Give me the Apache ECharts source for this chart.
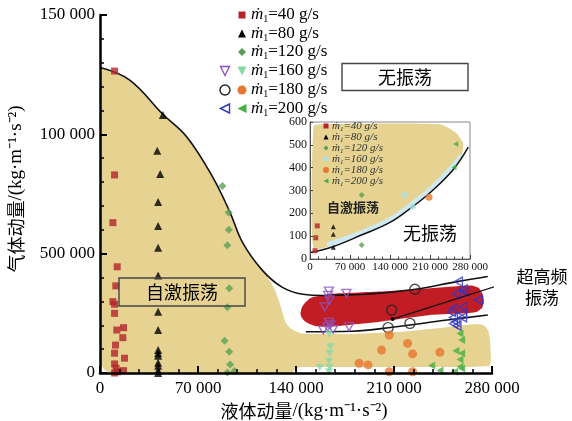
<!DOCTYPE html>
<html><head><meta charset="utf-8">
<script src="https://cdn.jsdelivr.net/npm/echarts@6/dist/echarts.min.js"></script>
<style>html,body{margin:0;padding:0;background:#fff}#c{width:572px;height:421px}</style>
</head><body><div id="c"></div>
<script>
// ---------- tick labels ----------
const xTickLabels = {0:'0',70000:'70 000',140000:'140 000',210000:'210 000',280000:'280 000'};
const yTickLabels = {0:'0',50000:'500 000',100000:'100 000',150000:'150 000'};
const insetXTickLabels = {0:'0',70000:'70 000',140000:'140 000',210000:'210 000',280000:'280 000'};
const legendNames = ['=40 g/s','=80 g/s','=120 g/s','=160 g/s','=180 g/s','=200 g/s'];

// ---------- main chart data [liquid momentum, gas momentum] ----------
const m40 = [[10400,126500],[10400,83000],[9200,63000],[12300,44500],[11300,36500],[9200,29900],[10400,28800],[10400,25000],[12000,18000],[16800,19000],[16300,14800],[11100,11700],[10400,8300],[17500,6200],[10400,3800],[11500,2000],[16800,1000],[12500,500],[10400,0]];
const m80 = [[44900,108100],[40900,93100],[43000,83400],[41500,71600],[41500,61600],[41500,52500],[41500,40800],[41500,25700],[41500,18000],[41500,9600],[41500,8300],[41500,7200],[41500,4300],[41500,3000],[41500,1000],[41500,0]];
const m120 = [[87400,78300],[91900,67300],[92000,60000],[91000,53500],[92300,35500],[91000,27500],[89000,13500],[92300,8900],[93000,3600],[91000,200],[96000,800]];
const m160Hollow = [[163500,34300],[163000,32500],[164000,30600],[160500,27700],[176000,33400],[163500,21200],[164500,20200],[162500,19300],[159500,18000],[166500,18300],[178000,19400]];
const m160Filled = [[163600,16300],[164500,11000],[164000,8300],[163500,4900],[157000,2300],[164000,2300],[163500,500]];
const m180Hollow = [[224900,35100],[208300,26400],[221400,20800],[205800,19000]];
const m180Filled = [[206600,15900],[201100,9600],[185100,4100],[191500,3400],[206600,500],[219700,12400],[223300,8000],[223300,500],[242800,8700]];
const m200Hollow = [[256000,38300],[259500,35000],[254500,33200],[261000,34000],[270200,30600],[259500,27700],[252500,27000],[259000,25000],[251200,25500],[252500,23300],[259000,23300],[254200,21500],[252500,20700],[255000,19800]];
const m200Filled = [[257100,16600],[258300,13800],[254200,9300],[258300,8300],[257100,5700],[236900,3100],[242800,1000],[257100,2600],[258300,1900],[253300,500]];

// ---------- boundaries / regions ----------
const upperCurve = [[0,128000],[21000,122800],[44700,108500],[62000,98900],[80500,82100],[92700,67500],[102000,54500],[116000,43000],[130000,36000],[145000,33000],[160000,32500],[176000,32700],[190000,33000],[224000,35000],[255000,38300],[277000,40400]];
const lowerCurve = [[147000,17300],[180000,17500],[210000,19300],[248000,22200],[277000,24300]];
const selfExcitedRegion = [[0,128000],[10000,126200],[21100,122800],[33000,116500],[44700,108500],[53000,104000],[61900,98900],[71000,91300],[80500,82100],[87000,75000],[92700,67500],[97500,61000],[102000,54500],[106500,50200],[110500,46500],[114800,43600],[118400,41100],[122500,37600],[125500,33900],[128000,30000],[129800,26400],[131300,23500],[132700,21000],[135500,19000],[139100,17600],[143500,16700],[148400,16300],[178400,16300],[214200,17200],[242800,18900],[261400,20100],[268000,20500],[272500,20300],[275500,19400],[277500,17500],[278600,13800],[279300,5400],[278800,3800],[277900,2900],[264300,2500],[142700,2500],[139500,1400],[137000,0],[9000,0],[6000,300],[3200,1300],[1300,2800],[400,4600],[0,7100]];
const ultraHighRegion = [[143200,25000],[144200,27500],[146300,29300],[149000,30800],[152000,31800],[164100,33100],[199900,34100],[228500,35200],[257100,36500],[265700,36700],[270700,35600],[273600,32700],[274300,29700],[272900,27200],[269400,25700],[260700,25000],[235700,24300],[199900,21500],[164100,19400],[154000,19600],[149800,20500],[146500,21600],[144800,22600],[143600,23800]];
const pointerLine = [[209000,22600],[295800,38800]];

// ---------- inset data ----------
const in40 = [[12800,145],[10000,93],[8750,36]];
const in80 = [[40800,141],[40800,108],[40800,51]];
const in120 = [[90500,280],[90500,61]];
const in160 = [[164500,280],[179700,229]];
const in180 = [[208300,270]];
const in200 = [[255000,504],[252000,402]];
const insetCurve = [[0,28],[40000,54],[90000,105],[140000,160],[180000,230],[210000,290],[250000,390],[277000,490]];
const insetBand = [[30000,62],[90000,115],[140000,172],[180000,243],[210000,303],[250000,405],[266000,455]];
const insetRegion = [[5800,579],[17500,590],[227500,590],[256700,550],[267800,507],[266000,455],[256700,404],[215800,302],[175000,229],[128300,156],[81700,98],[40800,61],[5800,47]];

// ---------- styling helpers ----------
const SERIF = '"Liberation Serif","Times New Roman",serif';
const CJK = '"Noto Sans CJK SC",sans-serif';
const INV_TRI = 'path://M0,0L10,0L5,9Z';
const LEFT_TRI = 'path://M0,5L9,0L9,10Z';

function poly(points, color, z, g, smooth) {
  return {type:'custom', xAxisIndex:g, yAxisIndex:g, z:z, silent:true, data:points,
    renderItem:function(params, api){
      if (params.dataIndex !== 0) return null;
      const pts = points.map(function(p){return api.coord(p);});
      return {type:'polygon', shape:{points:pts, smooth:smooth||0}, style:{fill:color}};
    }};
}
function sc(data, symbol, size, fill, stroke, g, z) {
  return {type:'scatter', xAxisIndex:g, yAxisIndex:g, data:data, symbol:symbol, symbolSize:size, z:z||5, silent:true,
    itemStyle: stroke ? {color:'rgba(0,0,0,0)', borderColor:stroke, borderWidth:1.4} : {color:fill}};
}
function ln(data, color, width, g, z) {
  return {type:'line', xAxisIndex:g, yAxisIndex:g, data:data, smooth:0.4, symbol:'none', z:z||4, silent:true,
    lineStyle:{color:color, width:width}};
}

const C = {red:'#b3242b', black:'#000', green:'#5a9f55', purple:'#8d52c0', mint:'#86d9a6', orange:'#e8772f', blue:'#3136c8', green2:'#46b040', cyan:'#a9e2e4'};

// ---------- legend (graphic) ----------
const graphics = [];
function marker(kind, cx, cy, s, fill, stroke) {
  const st = stroke ? {fill:'none', stroke:stroke, lineWidth:1.4} : {fill:fill};
  if (kind==='rect') return {type:'rect', shape:{x:cx-s/2,y:cy-s/2,width:s,height:s}, style:st, z:30};
  if (kind==='circle') return {type:'circle', shape:{cx:cx,cy:cy,r:s/2}, style:st, z:30};
  let pts;
  if (kind==='tri') pts=[[cx,cy-s/2],[cx+s/2,cy+s/2],[cx-s/2,cy+s/2]];
  if (kind==='dia') pts=[[cx,cy-s/2],[cx+s/2,cy],[cx,cy+s/2],[cx-s/2,cy]];
  if (kind==='inv') pts=[[cx-s/2,cy-s/2],[cx+s/2,cy-s/2],[cx,cy+s/2]];
  if (kind==='left') pts=[[cx-s/2,cy],[cx+s/2,cy-s/2],[cx+s/2,cy+s/2]];
  return {type:'polygon', shape:{points:pts}, style:st, z:30};
}
function legendText(x, y, txt, size, color, italicAll) {
  const fs = italicAll ? 'italic' : 'normal';
  return {type:'text', z:30, style:{x:x, y:y, verticalAlign:'middle', align:'left',
    text:'{m|ṁ}{s|1}{t|'+txt+'}',
    rich:{m:{fontFamily:SERIF, fontStyle:'italic', fontSize:size, fill:color, lineHeight:size+2},
          s:{fontFamily:SERIF, fontStyle:fs, fontSize:Math.round(size*0.6), fill:color, verticalAlign:'bottom', lineHeight:Math.round(size*0.6)},
          t:{fontFamily:SERIF, fontStyle:fs, fontSize:size, fill:color, lineHeight:size+2}}}};
}
const rowsY = [15, 33.5, 52, 71, 90, 108.5];
const mk = [['rect',C.red,7],['tri',C.black,8],['dia',C.green,8],['inv',C.mint,9],['circle',C.orange,9],['left',C.green2,9]];
const mkH = [null,null,null,['inv',C.purple,9],['circle','#222',10],['left',C.blue,9]];
for (let i=0;i<6;i++){
  graphics.push(marker(mk[i][0], 242, rowsY[i], mk[i][2], mk[i][1]));
  if (mkH[i]) graphics.push(marker(mkH[i][0], 225, rowsY[i], mkH[i][2], null, mkH[i][1]));
  graphics.push(legendText(251, rowsY[i], legendNames[i], 17, '#000', false));
}
// inset legend
const inRows = [126, 137, 148, 159, 170, 181];
const inMk = [['rect',C.red,5],['tri',C.black,5],['dia',C.green,5],['circle',C.cyan,5],['circle',C.orange,6],['left',C.green2,5]];
for (let i=0;i<6;i++){
  graphics.push(marker(inMk[i][0], 326, inRows[i], inMk[i][2], inMk[i][1]));
  graphics.push(legendText(332, inRows[i], legendNames[i], 11, '#333', true));
}
// region labels
function box(x,y,w,h){return {type:'rect', z:30, shape:{x:x,y:y,width:w,height:h}, style:{fill:'none', stroke:'#444', lineWidth:1.4}};}
function label(x,y,t,size,weight,color){return {type:'text', z:31, style:{x:x,y:y,text:t,align:'center',verticalAlign:'middle',font:(weight||'normal')+' '+size+'px '+CJK, fill:color||'#000'}};}
graphics.push(box(342,63.5,126,27), label(405,77,'无振荡',18));
graphics.push(box(119,278,126,28), label(182,292,'自激振荡',18));
graphics.push(label(542,277,'超高频',17), label(542,298,'振荡',17));
graphics.push(label(353,207,'自激振荡',13,'bold','#222'), label(430,233,'无振荡',18));

// ---------- axes ----------
function mainX(){return {gridIndex:0,type:'value',min:0,max:280000,interval:70000,z:10,
  axisLine:{lineStyle:{color:'#000',width:2.5}},
  axisTick:{inside:true,length:7,lineStyle:{width:2,color:'#000'}},
  minorTick:{show:true,splitNumber:5,length:4,lineStyle:{width:1.5,color:'#000'}},
  splitLine:{show:false},
  axisLabel:{formatter:function(v){return xTickLabels[v];},fontFamily:SERIF,fontSize:17,color:'#000',margin:7},
  name:'{c|液体动量}{u|/(kg·m⁻¹·s⁻²)}',nameLocation:'middle',nameGap:29,
  nameTextStyle:{padding:[0,0,0,16],rich:{c:{fontFamily:CJK,fontSize:18,color:'#000'},u:{fontFamily:SERIF,fontSize:19,color:'#000'}}}};}
function mainY(){return {gridIndex:0,type:'value',min:0,max:150000,interval:50000,z:10,
  axisLine:{lineStyle:{color:'#000',width:2.5}},
  axisTick:{inside:true,length:7,lineStyle:{width:2,color:'#000'}},
  minorTick:{show:true,splitNumber:5,length:4,lineStyle:{width:1.5,color:'#000'}},
  splitLine:{show:false},
  axisLabel:{formatter:function(v){return yTickLabels[v];},fontFamily:SERIF,fontSize:17,color:'#000',margin:5},
  name:'{c|气体动量}{u|/(kg·m⁻¹·s⁻²)}',nameLocation:'middle',nameGap:74,
  nameTextStyle:{padding:[0,0,0,10],rich:{c:{fontFamily:CJK,fontSize:18,color:'#000'},u:{fontFamily:SERIF,fontSize:19,color:'#000'}}}};}
function inX(){return {gridIndex:1,type:'value',min:0,max:280000,interval:70000,z:10,
  axisLine:{lineStyle:{color:'#555',width:1}},
  axisTick:{inside:true,length:4,lineStyle:{color:'#444'}},
  minorTick:{show:true,splitNumber:5,length:2.5,lineStyle:{color:'#444'}},
  splitLine:{show:false},
  axisLabel:{formatter:function(v){return insetXTickLabels[v];},fontFamily:SERIF,fontSize:11,color:'#111',margin:3}};}
function inY(){return {gridIndex:1,type:'value',min:0,max:600,interval:100,z:10,
  axisLine:{lineStyle:{color:'#555',width:1}},
  axisTick:{inside:true,length:3,lineStyle:{color:'#444'}},
  splitLine:{show:false},
  axisLabel:{fontFamily:SERIF,fontSize:12,color:'#111',margin:3}};}

const option = {
  backgroundColor:'#fff',
  animation:false,
  grid:[
    {left:100,right:80,top:15,bottom:48,containLabel:false,outerBoundsMode:'none'},
    {left:310,top:122,width:160,height:137,show:true,backgroundColor:'#fff',borderColor:'#888',borderWidth:1,z:6,containLabel:false,outerBoundsMode:'none'}
  ],
  xAxis:[mainX(), inX()],
  yAxis:[mainY(), inY()],
  series:[
    poly(selfExcitedRegion,'#e6d391',1,0,0),
    poly(ultraHighRegion,'#c21d25',2,0,0.12),
    ln(upperCurve,'#111',1.6,0,4),
    ln(lowerCurve,'#111',1.6,0,4),
    {type:'line',xAxisIndex:0,yAxisIndex:0,data:pointerLine,clip:false,symbol:'none',z:7,silent:true,lineStyle:{color:'#111',width:1.2},
      markPoint:{symbol:'circle',symbolSize:4,itemStyle:{color:'#000'},label:{show:false},data:[{coord:pointerLine[0]}]}},
    sc(m40,'rect',7,C.red,null,0),
    sc(m80,'triangle',8,C.black,null,0),
    sc(m120,'diamond',8,C.green,null,0),
    sc(m160Hollow,INV_TRI,[9,8],null,C.purple,0),
    sc(m160Filled,INV_TRI,[8,7],C.mint,null,0),
    sc(m180Hollow,'circle',10,null,'#222',0),
    sc(m180Filled,'circle',9,C.orange,null,0),
    sc(m200Hollow,LEFT_TRI,[8,9],null,C.blue,0),
    sc(m200Filled,LEFT_TRI,[7,8],C.green2,null,0),
    // inset
    poly(insetRegion,'#e6d391',7,1,0.2),
    {type:'line',xAxisIndex:1,yAxisIndex:1,data:insetBand,smooth:0.4,symbol:'none',z:8,silent:true,lineStyle:{color:'#cfe9f1',width:5}},
    ln(insetCurve,'#111',1.5,1,9),
    sc(in40,'rect',5,C.red,null,1,10),
    sc(in80,'triangle',5,C.black,null,1,10),
    sc(in120,'diamond',6,C.green,null,1,10),
    sc(in160,'circle',6,C.cyan,null,1,10),
    sc(in180,'circle',7,C.orange,null,1,10),
    sc(in200,LEFT_TRI,[5,6],C.green2,null,1,10)
  ],
  graphic:graphics
};
const chart = echarts.init(document.getElementById('c'), null, {renderer:'canvas'});
chart.setOption(option);
</script></body></html>
